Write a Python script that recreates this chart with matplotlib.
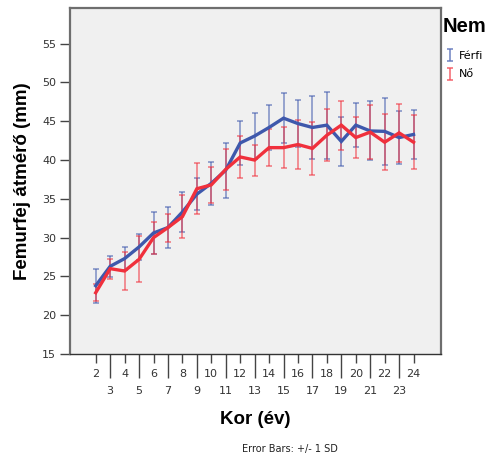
import matplotlib
matplotlib.use("Agg")
import matplotlib.pyplot as plt
from matplotlib.lines import Line2D
from matplotlib.path import Path

# ---------------------------
# Adatok: femurfej átmérő (mm) átlag és SD, koronként és nemenként
# ---------------------------
kor = list(range(2, 25))

ferfi_atlag = [23.8, 26.3, 27.3, 28.8, 30.6, 31.3, 33.3, 35.6, 37.0, 38.7, 42.2, 43.1,
               44.2, 45.4, 44.7, 44.2, 44.5, 42.4, 44.5, 43.75, 43.7, 42.9, 43.3]
ferfi_sd = [2.2, 1.35, 1.5, 1.7, 2.7, 2.6, 2.6, 2.1, 2.8, 3.55, 2.8, 3.0,
            2.85, 3.2, 3.0, 4.1, 4.3, 3.15, 2.85, 3.8, 4.35, 3.4, 3.1]

no_atlag = [22.9, 26.0, 25.7, 27.2, 30.0, 31.3, 32.7, 36.3, 36.8, 38.8, 40.4, 40.0,
            41.6, 41.6, 42.0, 41.5, 43.2, 44.5, 42.9, 43.6, 42.3, 43.5, 42.3]
no_sd = [1.1, 1.3, 2.4, 2.95, 2.05, 1.8, 2.75, 3.3, 2.3, 2.6, 2.75, 2.0,
         2.4, 2.65, 3.1, 3.4, 3.35, 3.15, 2.6, 3.5, 3.6, 3.7, 3.5]

nemek = ["Férfi", "Nő"]
szinek = ["#3E58AC", "#F0303C"]

# ---------------------------
# Ábra
# ---------------------------
plt.rcParams["font.family"] = ["DejaVu Sans"]
fig = plt.figure(figsize=(4.94, 4.57), dpi=100)
ax = fig.add_axes([70 / 494, 1 - 354 / 457, 371 / 494, 346 / 457])
ax.set_facecolor("#F0F0F0")

for atlag, sd, szin in [(ferfi_atlag, ferfi_sd, szinek[0]), (no_atlag, no_sd, szinek[1])]:
    ax.errorbar(kor, atlag, yerr=sd, fmt="none", ecolor=szin, alpha=0.55,
                elinewidth=1.3, capsize=2, capthick=1.3)
for atlag, szin in [(ferfi_atlag, szinek[0]), (no_atlag, szinek[1])]:
    ax.plot(kor, atlag, color=szin, lw=2.4, solid_joinstyle="miter")

ax.set_xlim(0.22, 25.9)
ax.set_ylim(15, 59.6)

# y tengely
ax.set_yticks(range(15, 60, 5))
ax.tick_params(axis="y", length=7, width=1, color="#444", labelsize=8, labelcolor="#333", pad=3)

# x tengely: páros korok felső sorban, páratlanok alul (hosszú osztóvonallal)
paros = [k for k in kor if k % 2 == 0]
paratlan = [k for k in kor if k % 2 == 1]
ax.set_xticks(paros, labels=[str(k) for k in paros])
ax.set_xticks(paratlan, labels=[str(k) for k in paratlan], minor=True)
ax.tick_params(axis="x", which="major", length=6.5, width=1, color="#444",
               labelsize=8, labelcolor="#333", pad=4.5)
ax.tick_params(axis="x", which="minor", length=17.5, width=1, color="#444",
               labelsize=8, labelcolor="#333", pad=5.5)

for s in ["left", "top", "right"]:
    ax.spines[s].set_color("#6E6E6E")
    ax.spines[s].set_linewidth(1.6)
ax.spines["bottom"].set_color("#333")
ax.spines["bottom"].set_linewidth(1.0)

ax.set_xlabel("Kor (év)", fontsize=13.5, fontweight="bold", family="Liberation Sans", labelpad=11)
ax.set_ylabel("Femurfej átmérő (mm)", fontsize=13.5, fontweight="bold", family="Liberation Sans", labelpad=8)

# jelmagyarázat: "I" alakú hibasáv-jel
ibar = Path([(0, -1), (0, 1), (-0.45, 1), (0.45, 1), (-0.45, -1), (0.45, -1)],
            [Path.MOVETO, Path.LINETO, Path.MOVETO, Path.LINETO, Path.MOVETO, Path.LINETO])
kezelok = [Line2D([], [], color=sz, marker=ibar, linestyle="None", markersize=9,
                  markeredgewidth=1.1, alpha=0.75) for sz in szinek]
fig.text(443 / 494, 1 - 27 / 457, "Nem", fontsize=14.5, fontweight="bold",
         family="Liberation Sans", ha="left", va="center")
leg = ax.legend(kezelok, nemek, loc="upper left", bbox_to_anchor=(1.011, 0.877),
                frameon=False, handlelength=0.8, handletextpad=0.45,
                borderaxespad=0, borderpad=0, labelspacing=0.8, fontsize=8)

fig.text(290 / 494, 1 - 449 / 457, "Error Bars: +/- 1 SD", fontsize=7, ha="center", va="center", color="#222")

fig.savefig("out.png", dpi=100, facecolor="white")
